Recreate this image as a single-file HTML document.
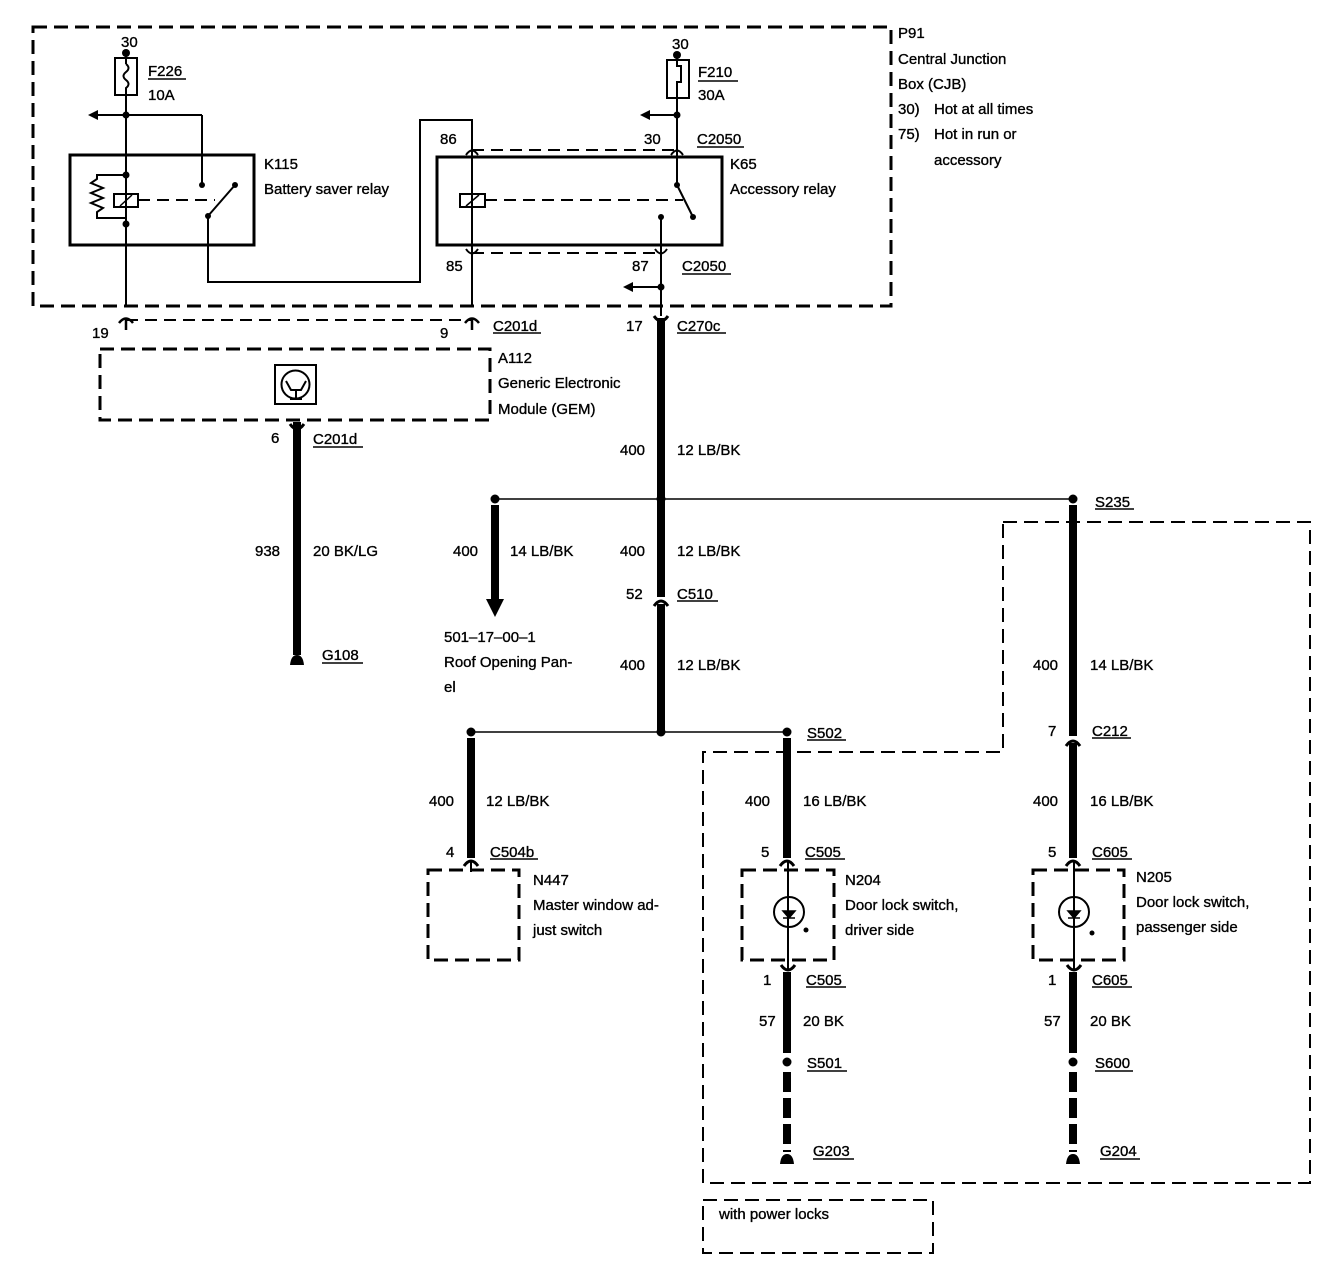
<!DOCTYPE html>
<html><head><meta charset="utf-8"><style>
html,body{margin:0;padding:0;background:#fff}
svg{display:block}
text{font-family:"Liberation Sans",Arial,sans-serif;font-size:15px;fill:#000;stroke:#000;stroke-width:0.35}
</style></head><body>
<svg width="1344" height="1284" viewBox="0 0 1344 1284" xmlns="http://www.w3.org/2000/svg">
<g fill="none" stroke="#000">
<!-- CJB dashed box -->
<rect x="33" y="27" width="858" height="279" stroke-width="3" stroke-dasharray="14,7"/>
<!-- K115 -->
<rect x="70" y="155" width="184" height="90" stroke-width="3"/>
<rect x="115" y="58" width="22" height="37" stroke-width="2"/>
<path d="M126 53 V64 M126 64 q5 4 0 8 q-5 4 0 8 q5 4 0 8 V95" stroke-width="2"/>
<line x1="126" y1="95" x2="126" y2="306" stroke-width="2"/>
<line x1="96" y1="115" x2="202" y2="115" stroke-width="2"/>
<line x1="202" y1="115" x2="202" y2="185" stroke-width="2"/>
<rect x="114" y="194" width="24" height="13" stroke-width="2"/>
<line x1="120" y1="206" x2="132" y2="195" stroke-width="1.5"/>
<path d="M126 175 H97 v4 l-6 4 l12 5 l-12 5 l12 5 l-12 5 l12 5 l-6 4 v6 H126" stroke-width="2"/>
<line x1="138" y1="200" x2="215" y2="200" stroke-width="2" stroke-dasharray="12,7"/>
<line x1="208" y1="216" x2="235" y2="185" stroke-width="2"/>
<path d="M208 216 V282 H420 V120 H473" stroke-width="2"/>
<!-- K65 -->
<rect x="437" y="157" width="285" height="88" stroke-width="3"/>
<rect x="667" y="60" width="22" height="38" stroke-width="2"/>
<path d="M677 55 V66 h4 v16 h-4 V98" stroke-width="2"/>
<line x1="677" y1="98" x2="677" y2="185" stroke-width="2"/>
<line x1="648" y1="115" x2="677" y2="115" stroke-width="2"/>
<line x1="677" y1="185" x2="693" y2="217" stroke-width="2"/>
<line x1="472" y1="120" x2="472" y2="306" stroke-width="2"/>
<rect x="460" y="194" width="25" height="13" stroke-width="2"/>
<line x1="466" y1="206" x2="479" y2="195" stroke-width="1.5"/>
<line x1="485" y1="200" x2="683" y2="200" stroke-width="2" stroke-dasharray="12,7"/>
<line x1="661" y1="217" x2="661" y2="316" stroke-width="2"/>
<line x1="630" y1="287" x2="661" y2="287" stroke-width="2"/>
<line x1="472" y1="150" x2="677" y2="150" stroke-width="2" stroke-dasharray="12,7"/>
<line x1="472" y1="253" x2="661" y2="253" stroke-width="2" stroke-dasharray="12,7"/>
<path d="M466 155 Q472 146 478 155 M671 155 Q677 146 683 155" stroke-width="2"/>
<path d="M466 249 Q472 258 478 249 M655 249 Q661 258 667 249" stroke-width="2"/>
<!-- C201d -->
<line x1="126" y1="320" x2="472" y2="320" stroke-width="2" stroke-dasharray="12,7"/>
<path d="M119 323 Q126 314 133 323 M126 318 V330 M465 323 Q472 314 479 323 M472 318 V330" stroke-width="2.5"/>
<!-- main thick wire -->
<line x1="661" y1="318" x2="661" y2="597" stroke-width="8"/>
<line x1="661" y1="604" x2="661" y2="732" stroke-width="8"/>
<path d="M654 316 Q661 326 668 316" stroke-width="3"/>
<path d="M654 606 Q661 596 668 606" stroke-width="3"/>
<!-- A112 -->
<rect x="100" y="349" width="390" height="71" stroke-width="3" stroke-dasharray="14,7"/>
<rect x="275" y="365" width="41" height="39" stroke-width="2"/>
<circle cx="295.5" cy="384.5" r="14" stroke-width="2"/>
<path d="M286 381 l5 9 h10 l5 -9 M296 390 v9 M290 399 h12" stroke-width="2"/>
<line x1="297" y1="422" x2="297" y2="655" stroke-width="8"/>
<path d="M290 424 Q297 434 304 424" stroke-width="3"/>
<!-- splice line -->
<line x1="495" y1="499" x2="1073" y2="499" stroke-width="1.5"/>
<line x1="495" y1="505" x2="495" y2="600" stroke-width="8"/>
<line x1="471" y1="732" x2="787" y2="732" stroke-width="1.5"/>
<line x1="471" y1="738" x2="471" y2="858" stroke-width="8"/>
<path d="M464 866 Q471 856 478 866" stroke-width="3"/>
<line x1="471" y1="860" x2="471" y2="872" stroke-width="2"/>
<rect x="428" y="870" width="91" height="90" stroke-width="3" stroke-dasharray="14,7"/>
<!-- driver side -->
<line x1="787" y1="738" x2="787" y2="858" stroke-width="8"/>
<path d="M780 866 Q787 856 794 866" stroke-width="3"/>
<rect x="742" y="870" width="92" height="90" stroke-width="3" stroke-dasharray="14,7"/>
<line x1="788" y1="860" x2="788" y2="970" stroke-width="2"/>
<circle cx="789" cy="912" r="15" stroke-width="2"/>
<path d="M783 911 L795 911 L789 918 Z M783 918 h12" fill="#000" stroke-width="1.5"/>
<path d="M781 965 Q788 975 795 965" stroke-width="3"/>
<line x1="787" y1="972" x2="787" y2="1053" stroke-width="8"/>
<line x1="787" y1="1072" x2="787" y2="1152" stroke-width="8" stroke-dasharray="20,6"/>
<!-- passenger side -->
<line x1="1073" y1="505" x2="1073" y2="736" stroke-width="8"/>
<path d="M1066 746 Q1073 736 1080 746" stroke-width="3"/>
<line x1="1073" y1="743" x2="1073" y2="858" stroke-width="8"/>
<path d="M1066 866 Q1073 856 1080 866" stroke-width="3"/>
<rect x="1033" y="870" width="91" height="90" stroke-width="3" stroke-dasharray="14,7"/>
<line x1="1074" y1="860" x2="1074" y2="970" stroke-width="2"/>
<circle cx="1074" cy="912" r="15" stroke-width="2"/>
<path d="M1068 911 L1080 911 L1074 918 Z M1068 918 h12" fill="#000" stroke-width="1.5"/>
<path d="M1067 965 Q1074 975 1081 965" stroke-width="3"/>
<line x1="1073" y1="972" x2="1073" y2="1053" stroke-width="8"/>
<line x1="1073" y1="1072" x2="1073" y2="1152" stroke-width="8" stroke-dasharray="20,6"/>
<!-- power locks boxes -->
<path d="M1003 522 H1310 V1183 H703 V752 H1003 Z" stroke-width="2" stroke-dasharray="14,7"/>
<rect x="703" y="1200" width="230" height="53" stroke-width="2" stroke-dasharray="14,7"/>
<!-- underlines -->
<g stroke-width="1.5">
<line x1="148" y1="79" x2="186" y2="79"/>
<line x1="698" y1="81" x2="738" y2="81"/>
<line x1="697" y1="147" x2="744" y2="147"/>
<line x1="682" y1="274" x2="731" y2="274"/>
<line x1="493" y1="333" x2="541" y2="333"/>
<line x1="677" y1="333" x2="726" y2="333"/>
<line x1="313" y1="447" x2="363" y2="447"/>
<line x1="322" y1="663" x2="363" y2="663"/>
<line x1="1095" y1="509" x2="1134" y2="509"/>
<line x1="677" y1="601" x2="718" y2="601"/>
<line x1="807" y1="740" x2="846" y2="740"/>
<line x1="1092" y1="738" x2="1131" y2="738"/>
<line x1="490" y1="859" x2="538" y2="859"/>
<line x1="805" y1="859" x2="845" y2="859"/>
<line x1="1092" y1="859" x2="1132" y2="859"/>
<line x1="806" y1="987" x2="846" y2="987"/>
<line x1="1092" y1="987" x2="1132" y2="987"/>
<line x1="807" y1="1071" x2="847" y2="1071"/>
<line x1="1095" y1="1071" x2="1133" y2="1071"/>
<line x1="813" y1="1159" x2="854" y2="1159"/>
<line x1="1100" y1="1159" x2="1140" y2="1159"/>
</g>
</g>
<g fill="#000">
<circle cx="126" cy="53" r="4"/><circle cx="677" cy="55" r="4"/>
<circle cx="126" cy="115" r="3.5"/><circle cx="126" cy="175" r="3.5"/><circle cx="126" cy="224" r="3.5"/>
<circle cx="202" cy="185" r="3"/><circle cx="235" cy="185" r="3"/><circle cx="208" cy="216" r="3"/>
<circle cx="677" cy="115" r="3.5"/><circle cx="677" cy="185" r="3"/><circle cx="693" cy="217" r="3"/><circle cx="661" cy="217" r="3"/><circle cx="661" cy="287" r="3.5"/>
<path d="M88 115 L98 110 L98 120 Z"/><path d="M640 115 L650 110 L650 120 Z"/><path d="M623 287 L633 282 L633 292 Z"/>
<circle cx="495" cy="499" r="4.5"/><circle cx="661" cy="499" r="4.5"/><circle cx="1073" cy="499" r="4.5"/>
<circle cx="471" cy="732" r="4.5"/><circle cx="661" cy="732" r="4.5"/><circle cx="787" cy="732" r="4.5"/>
<circle cx="787" cy="1062" r="4.5"/><circle cx="1073" cy="1062" r="4.5"/>
<path d="M486 599 H504 L495 617 Z"/>
<path d="M290 665 Q291 655 297 655 Q303 655 304 665 Z"/>
<path d="M780 1164 Q781 1154 787 1154 Q793 1154 794 1164 Z"/>
<path d="M1066 1164 Q1067 1154 1073 1154 Q1079 1154 1080 1164 Z"/>
<circle cx="806" cy="930" r="2.5"/><circle cx="1092" cy="933" r="2.5"/>
</g>
<text x="121" y="47">30</text>
<text x="148" y="76">F226</text>
<text x="148" y="100">10A</text>
<text x="264" y="169">K115</text>
<text x="264" y="194">Battery saver relay</text>
<text x="672" y="49">30</text>
<text x="698" y="77">F210</text>
<text x="698" y="100">30A</text>
<text x="440" y="144">86</text>
<text x="644" y="144">30</text>
<text x="697" y="144">C2050</text>
<text x="730" y="169">K65</text>
<text x="730" y="194">Accessory relay</text>
<text x="446" y="271">85</text>
<text x="632" y="271">87</text>
<text x="682" y="271">C2050</text>
<text x="898" y="38">P91</text>
<text x="898" y="64">Central Junction</text>
<text x="898" y="89">Box (CJB)</text>
<text x="898" y="114">30)</text><text x="934" y="114">Hot at all times</text>
<text x="898" y="139">75)</text><text x="934" y="139">Hot in run or</text>
<text x="934" y="165">accessory</text>
<text x="92" y="338">19</text>
<text x="440" y="338">9</text>
<text x="493" y="331">C201d</text>
<text x="626" y="331">17</text>
<text x="677" y="331">C270c</text>
<text x="498" y="363">A112</text>
<text x="498" y="388">Generic Electronic</text>
<text x="498" y="414">Module (GEM)</text>
<text x="271" y="443">6</text>
<text x="313" y="444">C201d</text>
<text x="620" y="455">400</text>
<text x="677" y="455">12 LB/BK</text>
<text x="1095" y="507">S235</text>
<text x="255" y="556">938</text>
<text x="313" y="556">20 BK/LG</text>
<text x="322" y="660">G108</text>
<text x="453" y="556">400</text>
<text x="510" y="556">14 LB/BK</text>
<text x="620" y="556">400</text>
<text x="677" y="556">12 LB/BK</text>
<text x="626" y="599">52</text>
<text x="677" y="599">C510</text>
<text x="444" y="642">501–17–00–1</text>
<text x="444" y="667">Roof Opening Pan-</text>
<text x="444" y="692">el</text>
<text x="620" y="670">400</text>
<text x="677" y="670">12 LB/BK</text>
<text x="1033" y="670">400</text>
<text x="1090" y="670">14 LB/BK</text>
<text x="807" y="738">S502</text>
<text x="1048" y="736">7</text>
<text x="1092" y="736">C212</text>
<text x="429" y="806">400</text>
<text x="486" y="806">12 LB/BK</text>
<text x="745" y="806">400</text>
<text x="803" y="806">16 LB/BK</text>
<text x="1033" y="806">400</text>
<text x="1090" y="806">16 LB/BK</text>
<text x="446" y="857">4</text>
<text x="490" y="857">C504b</text>
<text x="761" y="857">5</text>
<text x="805" y="857">C505</text>
<text x="1048" y="857">5</text>
<text x="1092" y="857">C605</text>
<text x="533" y="885">N447</text>
<text x="533" y="910">Master window ad-</text>
<text x="533" y="935">just switch</text>
<text x="845" y="885">N204</text>
<text x="845" y="910">Door lock switch,</text>
<text x="845" y="935">driver side</text>
<text x="1136" y="882">N205</text>
<text x="1136" y="907">Door lock switch,</text>
<text x="1136" y="932">passenger side</text>
<text x="763" y="985">1</text>
<text x="806" y="985">C505</text>
<text x="1048" y="985">1</text>
<text x="1092" y="985">C605</text>
<text x="759" y="1026">57</text>
<text x="803" y="1026">20 BK</text>
<text x="1044" y="1026">57</text>
<text x="1090" y="1026">20 BK</text>
<text x="807" y="1068">S501</text>
<text x="1095" y="1068">S600</text>
<text x="813" y="1156">G203</text>
<text x="1100" y="1156">G204</text>
<text x="719" y="1219">with power locks</text>
</svg>
</body></html>
